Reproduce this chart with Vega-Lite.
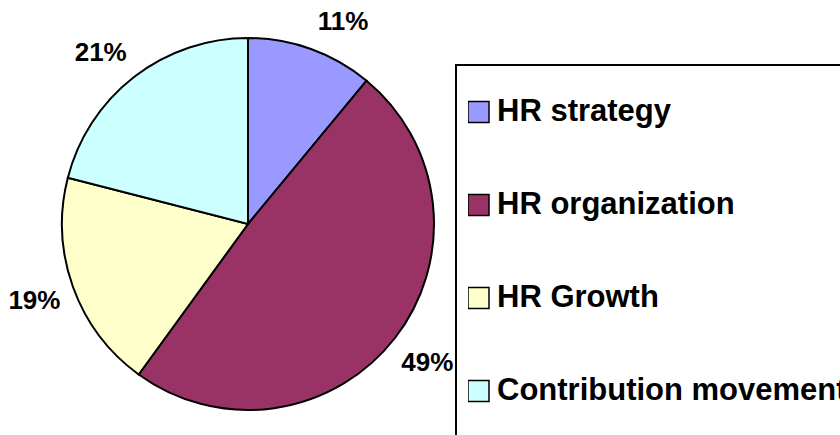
{
  "$schema": "https://vega.github.io/schema/vega-lite/v6.json",
  "autosize": {"type": "none"},
  "width": 496,
  "height": 422,
  "padding": {"left": 0, "top": 13, "right": 344, "bottom": 0},
  "background": "white",
  "config": {
    "view": {"stroke": null},
    "font": "Liberation Sans",
    "legend": {
      "strokeColor": "black",
      "strokeWidth": 2,
      "padding": 12
    }
  },
  "data": {
    "values": [
      {"cat": "HR strategy", "share": 0.11, "ord": 1},
      {"cat": "HR organization", "share": 0.49, "ord": 2},
      {"cat": "HR Growth", "share": 0.19, "ord": 3},
      {"cat": "Contribution movement", "share": 0.21, "ord": 4}
    ]
  },
  "encoding": {
    "theta": {"field": "share", "type": "quantitative", "stack": true},
    "order": {"field": "ord", "type": "quantitative"}
  },
  "layer": [
    {
      "mark": {"type": "arc", "outerRadius": 186, "stroke": "black", "strokeWidth": 2},
      "encoding": {
        "color": {
          "field": "cat",
          "type": "nominal",
          "scale": {
            "domain": ["HR strategy", "HR organization", "HR Growth", "Contribution movement"],
            "range": ["#9999FF", "#993366", "#FFFFCC", "#CCFFFF"]
          },
          "legend": {
            "title": null,
            "orient": "none",
            "legendX": 456,
            "legendY": 52,
            "symbolType": "square",
            "symbolSize": 441,
            "symbolStrokeColor": "black",
            "symbolStrokeWidth": 1.5,
            "symbolOpacity": 1,
            "symbolOffset": -5,
            "labelFont": "Liberation Sans",
            "labelFontWeight": "bold",
            "labelFontSize": 31,
            "labelColor": "black",
            "labelLimit": 600,
            "labelOffset": 3,
            "clipHeight": 70,
            "rowPadding": 23
          }
        }
      }
    },
    {
      "mark": {"type": "text", "radius": 206, "align": "left", "baseline": "alphabetic", "font": "Liberation Sans", "fontWeight": "bold", "fontSize": 26, "fill": "black"},
      "encoding": {
        "text": {"field": "share", "type": "quantitative", "format": ".0%"},
        "opacity": {"condition": {"test": "datum.cat === 'HR strategy'", "value": 1}, "value": 0}
      }
    },
    {
      "mark": {"type": "text", "radius": 206, "dx": 5, "align": "right", "baseline": "alphabetic", "font": "Liberation Sans", "fontWeight": "bold", "fontSize": 26, "fill": "black"},
      "encoding": {
        "text": {"field": "share", "type": "quantitative", "format": ".0%"},
        "opacity": {"condition": {"test": "datum.cat === 'Contribution movement'", "value": 1}, "value": 0}
      }
    },
    {
      "mark": {"type": "text", "radius": 227, "align": "center", "baseline": "middle", "font": "Liberation Sans", "fontWeight": "bold", "fontSize": 26, "fill": "black"},
      "encoding": {
        "text": {"field": "share", "type": "quantitative", "format": ".0%"},
        "opacity": {"condition": {"test": "datum.cat === 'HR organization' || datum.cat === 'HR Growth'", "value": 1}, "value": 0}
      }
    }
  ]
}
